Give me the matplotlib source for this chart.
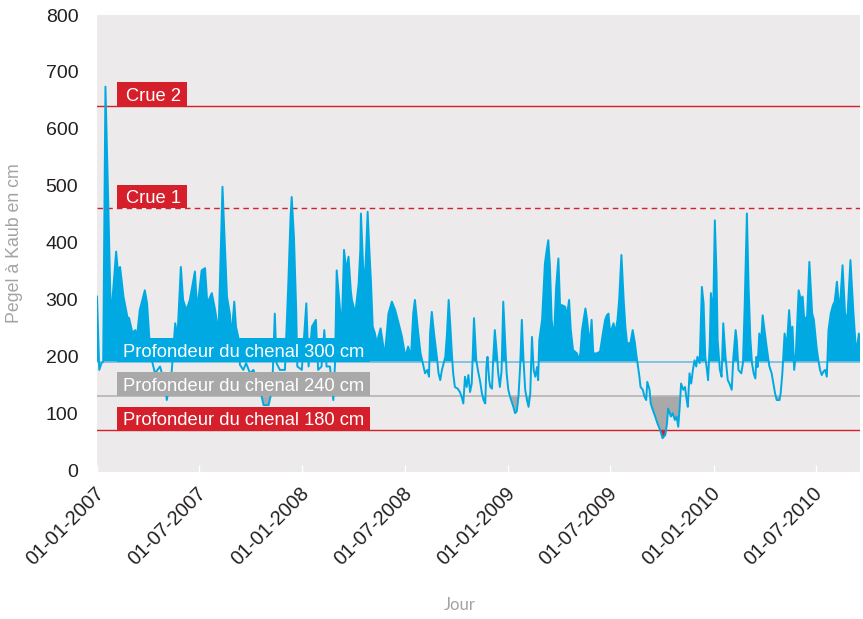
import numpy as np
import pandas as pd
import matplotlib
matplotlib.use("Agg")
import matplotlib.pyplot as plt
import matplotlib.dates as mdates
import matplotlib.transforms as mtransforms
from matplotlib.patches import Rectangle

# Pegel Kaub, jours depuis le 01-01-2007
jour = [0, 4, 8, 11, 15, 20, 24, 26, 34, 37, 41, 47, 54, 57, 63, 68, 71, 76, 85, 89,
        93, 97, 103, 112, 121, 124, 129, 133, 139, 143, 149, 153, 159, 165, 174, 178, 186, 192, 196, 204,
        210, 216, 223, 231, 236, 239, 244, 247, 251, 254, 260, 265, 272, 278, 284, 290, 296, 305, 311, 313,
        316, 319, 325, 334, 337, 340, 344, 346, 350, 354, 356, 364, 372, 376, 382, 389, 393, 399, 404, 408,
        414, 420, 423, 426, 431, 435, 439, 443, 447, 451, 453, 459, 465, 468, 469, 473, 476, 481, 484, 487,
        490, 494, 497, 500, 504, 508, 511, 515, 518, 524, 530, 536, 542, 548, 553, 558, 562, 565, 571, 575,
        579, 583, 587, 590, 592, 595, 599, 604, 607, 610, 613, 619, 622, 625, 628, 631, 633, 636, 641, 645,
        648, 651, 654, 657, 660, 663, 666, 670, 674, 678, 681, 684, 687, 690, 692, 694, 697, 699, 702, 704,
        707, 711, 713, 716, 719, 722, 725, 728, 731, 734, 737, 740, 743, 746, 749, 752, 755, 758, 761, 764,
        767, 770, 773, 776, 779, 782, 784, 786, 791, 793, 796, 799, 802, 805, 808, 812, 816, 820, 823, 826,
        832, 835, 839, 842, 846, 853, 856, 859, 862, 868, 871, 874, 876, 879, 882, 888, 894, 899, 903, 906,
        909, 912, 918, 921, 925, 928, 932, 936, 939, 942, 948, 952, 956, 959, 961, 964, 966, 970, 973, 976,
        978, 982, 984, 988, 992, 996, 1001, 1005, 1010, 1013, 1015, 1020, 1023, 1027, 1030, 1033, 1036, 1038, 1042, 1045,
        1048, 1050, 1053, 1056, 1059, 1062, 1065, 1067, 1071, 1075, 1078, 1081, 1084, 1086, 1089, 1091, 1095, 1098, 1101, 1103,
        1107, 1110, 1113, 1117, 1121, 1124, 1128, 1131, 1135, 1137, 1140, 1145, 1148, 1151, 1155, 1158, 1161, 1164, 1167, 1170,
        1172, 1174, 1177, 1180, 1183, 1187, 1190, 1195, 1199, 1202, 1205, 1208, 1213, 1215, 1218, 1222, 1226, 1230, 1233, 1236,
        1239, 1242, 1247, 1251, 1254, 1257, 1262, 1266, 1271, 1274, 1279, 1282, 1285, 1288, 1291, 1294, 1297, 1300, 1304, 1308,
        1311, 1315, 1318, 1321, 1325, 1330, 1334, 1339, 1344, 1348, 1351, 1354, 1356]
pegel = [305, 176, 188, 190, 674, 469, 293, 281, 384, 351, 357, 305, 269, 267, 241, 246, 234, 281, 316, 293,
         232, 195, 170, 182, 150, 123, 150, 176, 258, 234, 357, 299, 281, 299, 349, 281, 351, 355, 293, 311,
         281, 241, 498, 305, 275, 234, 296, 252, 234, 185, 176, 188, 170, 176, 158, 141, 114, 114, 141, 188,
         275, 188, 176, 176, 252, 328, 445, 480, 410, 281, 182, 176, 293, 182, 252, 264, 176, 182, 246, 182,
         182, 123, 188, 351, 293, 246, 387, 351, 375, 316, 299, 275, 328, 387, 451, 357, 328, 454, 387, 328,
         252, 240, 223, 234, 249, 223, 199, 240, 275, 296, 281, 258, 234, 199, 217, 199, 275, 299, 240, 205,
         188, 170, 176, 164, 241, 278, 240, 199, 170, 158, 176, 199, 240, 299, 252, 199, 170, 146, 143, 137,
         129, 117, 164, 146, 167, 137, 152, 267, 193, 170, 155, 135, 123, 117, 181, 199, 158, 146, 143, 193,
         246, 199, 170, 146, 175, 296, 234, 170, 141, 129, 120, 111, 100, 103, 129, 182, 264, 193, 141, 123,
         111, 135, 234, 176, 164, 181, 158, 228, 264, 305, 363, 385, 404, 357, 264, 228, 322, 372, 287, 290,
         287, 270, 299, 246, 211, 205, 193, 205, 246, 284, 264, 234, 223, 264, 205, 205, 208, 240, 264, 272,
         275, 240, 258, 240, 264, 299, 378, 299, 252, 223, 223, 246, 223, 199, 185, 164, 146, 141, 129, 123,
         155, 141, 117, 105, 94, 82, 70, 56, 62, 82, 108, 94, 100, 88, 94, 76, 117, 152, 141, 146,
         123, 111, 170, 152, 176, 193, 182, 199, 188, 322, 293, 199, 176, 158, 222, 311, 270, 439, 345, 228,
         176, 164, 258, 199, 158, 152, 141, 199, 246, 228, 176, 170, 188, 287, 451, 322, 234, 188, 170, 161,
         199, 181, 240, 222, 272, 240, 217, 182, 170, 152, 135, 123, 123, 135, 170, 240, 217, 281, 240, 252,
         176, 205, 316, 299, 305, 264, 270, 366, 275, 264, 214, 193, 176, 167, 173, 176, 164, 246, 275, 290,
         296, 331, 296, 296, 360, 264, 275, 369, 281, 223, 217, 240, 193]

# Seuils (Pegel Kaub) et leurs libellés
seuils = [640, 460, 190, 130, 70]
libelles = ["Crue 2", "Crue 1", "Profondeur du chenal 300 cm",
            "Profondeur du chenal 240 cm", "Profondeur du chenal 180 cm"]

BLEU = "#00a9e2"
ROUGE = "#d51f2b"
GRIS = "#a9a9a9"
FOND = "#eceaeb"
TEXTE = "#231f20"

plt.rcParams["font.family"] = ["Liberation Sans", "DejaVu Sans"]


def boite(ax, s, texte, couleur, largeur, x_texte):
    """Etiquette blanche sur fond coloré, posée sur la ligne de seuil."""
    trans = mtransforms.blended_transform_factory(ax.transAxes, ax.transData)
    ax.add_patch(Rectangle((0.026, s), largeur, 41.5, transform=trans,
                           fc=couleur, ec="none", zorder=6, clip_on=False))
    ax.text(x_texte, s + 9.5, texte, transform=trans, ha="left", va="baseline",
            color="white", fontsize=13.2, zorder=7)


dates = pd.Timestamp("2007-01-01") + pd.to_timedelta(jour, unit="D")
x = mdates.date2num(dates.to_pydatetime())
y = np.array(pegel, dtype=float)

fig = plt.figure(figsize=(8.63, 6.19), dpi=100)
ax = fig.add_axes([97 / 863, 1 - 472 / 619, 763 / 863, 457 / 619])
ax.set_facecolor(FOND)

ax.fill_between(x, seuils[2], y, where=y > seuils[2], interpolate=True,
                color=BLEU, lw=0, zorder=2)
ax.fill_between(x, seuils[3], y, where=y < seuils[3], interpolate=True,
                color=GRIS, lw=0, zorder=2)
ax.fill_between(x, seuils[4], y, where=y < seuils[4], interpolate=True,
                color=ROUGE, lw=0, zorder=2)

ax.axhline(seuils[0], color=ROUGE, lw=1.0, zorder=3)
ax.axhline(seuils[1], color=ROUGE, lw=1.0, ls=(0, (4, 3)), zorder=3)
ax.axhline(seuils[2], color="#6dbde0", lw=1.2, zorder=3)
ax.axhline(seuils[3], color="#b4b4b4", lw=1.2, zorder=3)
ax.axhline(seuils[4], color=ROUGE, lw=1.0, zorder=3)

ax.plot(x, y, color=BLEU, lw=1.4, zorder=4)

couleurs = [ROUGE, ROUGE, BLEU, GRIS, ROUGE]
for i, (s, lib, c) in enumerate(zip(seuils, libelles, couleurs)):
    if i < 2:
        boite(ax, s, lib, c, 0.0917, 0.038)
    else:
        boite(ax, s, lib, c, 0.332, 0.0345)

ax.set_xlim(x[0], x[-1])
ax.set_ylim(-3.5, 800)
ax.set_yticks(range(0, 801, 100))
ax.xaxis.set_major_locator(mdates.MonthLocator(bymonth=[1, 7]))
ax.xaxis.set_major_formatter(mdates.DateFormatter("%d-%m-%Y"))

for sp in ax.spines.values():
    sp.set_visible(False)
ax.tick_params(axis="y", length=0, pad=13.5, labelsize=14, labelcolor=TEXTE)
ax.tick_params(axis="x", direction="in", length=5, color="white", width=1,
               labelsize=14.3, labelcolor=TEXTE, pad=13)
decalage = mtransforms.ScaledTranslation(0.04, 0, fig.dpi_scale_trans)
for lab in ax.get_xticklabels():
    lab.set_rotation(45)
    lab.set_ha("right")
    lab.set_va("center")
    lab.set_rotation_mode("anchor")
    lab.set_transform(lab.get_transform() + decalage)

ax.set_ylabel("Pegel à Kaub en cm", color="#a3a3a3", fontsize=12.8)
ax.yaxis.set_label_coords(-0.097, 0.5)
fig.text(460 / 863, 1 - 605 / 619, "Jour", color="#a3a3a3", fontsize=12,
         ha="center", va="center", family=["Lato", "DejaVu Sans"])

fig.savefig("out.png", dpi=100)
